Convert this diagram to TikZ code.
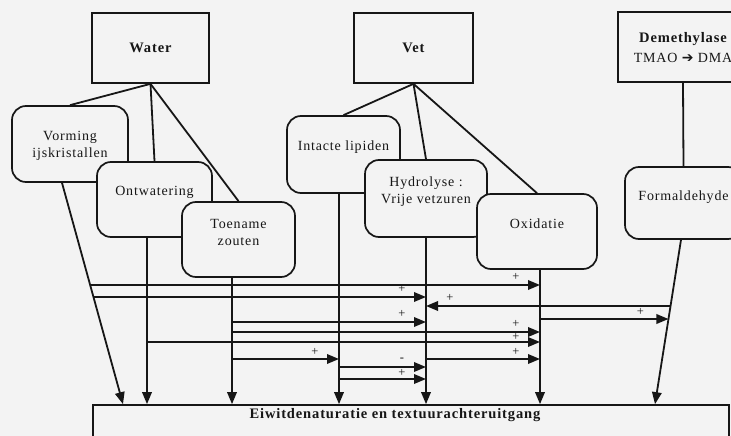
\documentclass[tikz,border=0pt]{standalone}
\usepackage{fontspec}
\setmainfont{Liberation Serif}[LetterSpace=6]
\newfontfamily\symfont{DejaVu Sans}
\usetikzlibrary{arrows.meta,calc}
\definecolor{bgc}{RGB}{243,243,243}
\definecolor{ink}{RGB}{22,22,22}
\pgfdeclarelayer{back}
\pgfsetlayers{back,main}
\tikzset{
  sqbox/.style={draw=ink, line width=1.7pt, fill=bgc, inner sep=0pt},
  rbox/.style={sqbox, rounded corners=14pt},
  txt/.style={font=\fontsize{14}{17}\selectfont, align=center, inner sep=0pt, text=ink},
  ttl/.style={font=\fontsize{14.5}{18}\selectfont\bfseries, align=center, inner sep=0pt, text=ink},
  conn/.style={line width=1.8pt, draw=ink},
  arr/.style={conn, -{Triangle[length=12pt,width=9.5pt]}},
  lbl/.style={font=\fontsize{12.5}{12.5}\selectfont, inner sep=0pt, text=ink},
}
\begin{document}
\begin{tikzpicture}[x=1pt,y=-1pt]
\useasboundingbox (0,0) rectangle (731,436);
\clip (0,0) rectangle (731,436);
\begin{pgfonlayer}{back}
\fill[bgc] (0,0) rectangle (731,436);
\end{pgfonlayer}

% header boxes
\node[sqbox, minimum width=117pt, minimum height=70pt] (water) at (150.5,48) {};
\node[sqbox, minimum width=119pt, minimum height=70pt] (vet) at (413.5,48) {};
\node[sqbox, minimum width=130pt, minimum height=70pt] (dem) at (683,47) {};

% rounded boxes
\node[rbox, minimum width=116pt, minimum height=76pt] (vorm) at (70,144) {};
\node[rbox, minimum width=115pt, minimum height=75pt] (ontw) at (154.5,199.5) {};
\node[rbox, minimum width=113pt, minimum height=75pt] (toen) at (238.5,239.5) {};
\node[rbox, minimum width=113pt, minimum height=77pt] (intact) at (343.5,154.5) {};
\node[rbox, minimum width=122pt, minimum height=77pt] (hydro) at (426,198.5) {};
\node[rbox, minimum width=120pt, minimum height=75pt] (oxid) at (537,231.5) {};
\node[rbox, minimum width=117pt, minimum height=72pt] (form) at (683.5,203) {};

% bottom box
\node[sqbox, minimum width=636pt, minimum height=65pt] (bot) at (411,437.5) {};

% connectors from headers (behind boxes)
\begin{pgfonlayer}{back}
\draw[conn] (water.south) -- (vorm.north);
\draw[conn] (water.south) -- (ontw.north);
\draw[conn] (water.south) -- (toen.north);
\draw[conn] (vet.south) -- (intact.north);
\draw[conn] (vet.south) -- (hydro.north);
\draw[conn] (vet.south) -- (oxid.north);
\draw[conn] (dem.south) -- (form.north);
\end{pgfonlayer}

% vertical lines
\coordinate (v1s) at ($(vorm.south)+(-8,0)$);
\coordinate (v1e) at (bot.north -| 123,0);
\coordinate (v2s) at (ontw.south -| 147,0);
\coordinate (v3s) at (toen.south -| 232,0);
\coordinate (v4s) at (intact.south -| 339,0);
\coordinate (v5s) at (hydro.south);
\coordinate (v6s) at (oxid.south -| 540,0);
\coordinate (v7s) at (form.south -| 681,0);
\coordinate (v7e) at (bot.north -| 655,0);

\draw[arr] (v1s) -- (v1e);
\draw[arr] (v2s) -- (v2s |- bot.north);
\draw[arr] (v3s) -- (v3s |- bot.north);
\draw[arr] (v4s) -- (v4s |- bot.north);
\draw[arr] (v5s) -- (v5s |- bot.north);
\draw[arr] (v6s) -- (v6s |- bot.north);
\draw[arr] (v7s) -- (v7e);

% horizontal arrows
\draw[arr] (intersection of v1s--v1e and 0,285--10,285) -- (v6s |- 0,285)
  node[lbl, at end, xshift=-24pt, yshift=8pt] {+};
\draw[arr] (intersection of v1s--v1e and 0,297--10,297) -- (v5s |- 0,297)
  node[lbl, at end, xshift=-24pt, yshift=8pt] {+};
\draw[arr] (intersection of v7s--v7e and 0,306--10,306) -- (v5s |- 0,306)
  node[lbl, at end, xshift=24pt, yshift=8pt] {+};
\draw[arr] (v6s |- 0,319) -- (intersection of v7s--v7e and 0,319--10,319)
  node[lbl, at end, xshift=-28pt, yshift=7pt] {+};
\draw[arr] (v3s |- 0,322) -- (v5s |- 0,322)
  node[lbl, at end, xshift=-24pt, yshift=8pt] {+};
\draw[arr] (v3s |- 0,332) -- (v6s |- 0,332)
  node[lbl, at end, xshift=-24pt, yshift=8pt] {+};
\draw[arr] (v2s |- 0,342) -- (v6s |- 0,342)
  node[lbl, at end, xshift=-24pt, yshift=5pt] {+};
\draw[arr] (v3s |- 0,359) -- (v4s |- 0,359)
  node[lbl, at end, xshift=-24pt, yshift=7pt] {+};
\draw[arr] (v5s |- 0,359) -- (v6s |- 0,359)
  node[lbl, at end, xshift=-24pt, yshift=7pt] {+};
\draw[arr] (v4s |- 0,367) -- (v5s |- 0,367)
  node[lbl, at end, xshift=-24pt, yshift=7pt] {-};
\draw[arr] (v4s |- 0,379) -- (v5s |- 0,379)
  node[lbl, at end, xshift=-24pt, yshift=6pt] {+};

% texts
\node[ttl] (waterT) at (water) {Water};
\node[ttl] (vetT) at (vet) {Vet};
\node[ttl] (demT) at (683,39) {Demethylase};
\node[txt] (demT2) at (683,58) {TMAO {\symfont\bfseries ➔} DMA};
\node[txt] (vormT) at (70,145.5) {Vorming\\ijskristallen};
\node[txt] (ontwT) at (154.5,192) {Ontwatering};
\node[txt] (toenT) at (238.5,232) {Toename\\zouten};
\node[txt] (intactT) at (343.5,147) {Intacte lipiden};
\node[txt] (hydroT) at (426,191.5) {Hydrolyse :\\Vrije vetzuren};
\node[txt] (oxidT) at (537,224) {Oxidatie};
\node[txt] (formT) at (683.5,197) {Formaldehyde};
\node[ttl] (botT) at (395,415) {Eiwitdenaturatie en textuurachteruitgang};
\end{tikzpicture}
\end{document}
